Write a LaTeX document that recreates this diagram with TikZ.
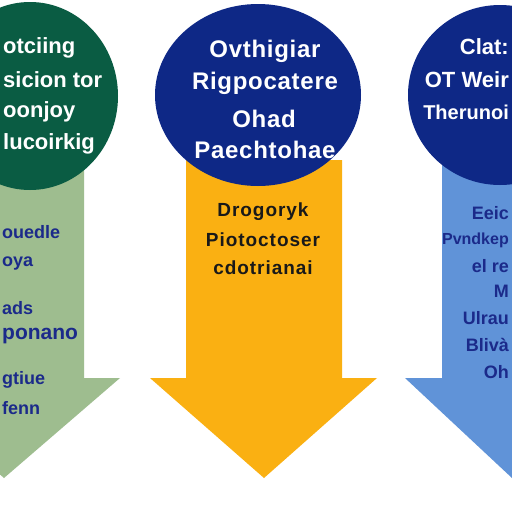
\documentclass[tikz,border=0pt]{standalone}
\usepackage{fontspec}
\setmainfont{Liberation Sans}
\definecolor{dgreen}{HTML}{0A5C43}
\definecolor{lgreen}{HTML}{9EBD8F}
\definecolor{navy}{HTML}{0E2886}
\definecolor{orng}{HTML}{FAB012}
\definecolor{lblue}{HTML}{6093D8}
\definecolor{ink}{HTML}{1B2A8A}
\begin{document}
\begin{tikzpicture}[x=1pt,y=-1pt,
  circ/.style={fill=#1,draw=none},
  wtxt/.style={text=white,font=\bfseries\fontsize{22}{26}\selectfont,align=center,inner sep=0pt},
  mtxt/.style={text=white,font=\bfseries\fontsize{24}{28}\selectfont\addfontfeature{LetterSpace=3},align=center,inner sep=0pt},
  atxt/.style={text=#1,font=\bfseries\fontsize{18}{22}\selectfont,align=center,inner sep=0pt},
  otxt/.style={text=black!90,font=\bfseries\fontsize{19}{22}\selectfont\addfontfeature{LetterSpace=5},align=center,inner sep=0pt}]
\useasboundingbox (0,0) rectangle (512,512);
\fill[white] (0,0) rectangle (512,512);
% arrows
\fill[lgreen] (-78,160) -- (84,160) -- (84,378) -- (120,378) -- (4,478) -- (-112,378) -- (-78,378) -- cycle;
\fill[orng] (186,160) -- (342,160) -- (342,378) -- (377,378) -- (264,478) -- (150,378) -- (186,378) -- cycle;
\fill[lblue] (442,160) -- (600,160) -- (600,378) -- (620,378) -- (512,478) -- (405,378) -- (442,378) -- cycle;
% circles
\fill[circ=dgreen] (30,96) ellipse [x radius=88, y radius=94];
\fill[circ=navy] (258,95) ellipse [x radius=103, y radius=91];
\fill[circ=navy] (500,95) ellipse [x radius=92, y radius=90];
% circle texts
\node[wtxt,anchor=west] (l1) at (3,48) {otciing};
\node[wtxt,anchor=west] (l2) at (3,80) {sicion tor};
\node[wtxt,anchor=west] (l3) at (3,112) {oonjoy};
\node[wtxt,anchor=west] (l4) at (3,144) {lucoirkig};
\node[mtxt] (m1) at (265,51) {Ovthigiar};
\node[mtxt] (m2) at (265,83) {Rigpocatere};
\node[mtxt] (m3) at (264,119) {Ohad};
\node[mtxt] (m4) at (265,150) {Paechtohae};
\node[wtxt,anchor=east] (r1) at (509,47) {Clat:};
\node[wtxt,anchor=east] (r2) at (509,80) {OT Weir};
\node[wtxt,anchor=east,font=\bfseries\fontsize{20}{24}\selectfont] (r3) at (509,112) {Therunoi};
% arrow texts
\node[atxt=ink,anchor=west] (g1) at (2,232) {ouedle};
\node[atxt=ink,anchor=west] (g2) at (2,264) {oya};
\node[atxt=ink,anchor=west] (g3) at (2,308) {ads};
\node[atxt=ink,anchor=west,font=\bfseries\fontsize{21}{24}\selectfont] (g4) at (2,336) {ponano};
\node[atxt=ink,anchor=west] (g5) at (2,380) {gtiue};
\node[atxt=ink,anchor=west] (g6) at (2,408) {fenn};
\node[otxt] (o1) at (263,212) {Drogoryk};
\node[otxt] (o2) at (263,240) {Piotoctoser};
\node[otxt] (o3) at (263,268) {cdotrianai};
\node[atxt=ink,anchor=east] (b1) at (509,213) {Eeic};
\node[atxt=ink,anchor=east,font=\bfseries\fontsize{16}{20}\selectfont] (b2) at (509,240) {Pvndkep};
\node[atxt=ink,anchor=east] (b3) at (509,266) {el re};
\node[atxt=ink,anchor=east] (b4) at (509,291) {M};
\node[atxt=ink,anchor=east] (b5) at (509,318) {Ulrau};
\node[atxt=ink,anchor=east] (b6) at (509,345) {Blivà};
\node[atxt=ink,anchor=east] (b7) at (509,372) {Oh};
\end{tikzpicture}
\end{document}
